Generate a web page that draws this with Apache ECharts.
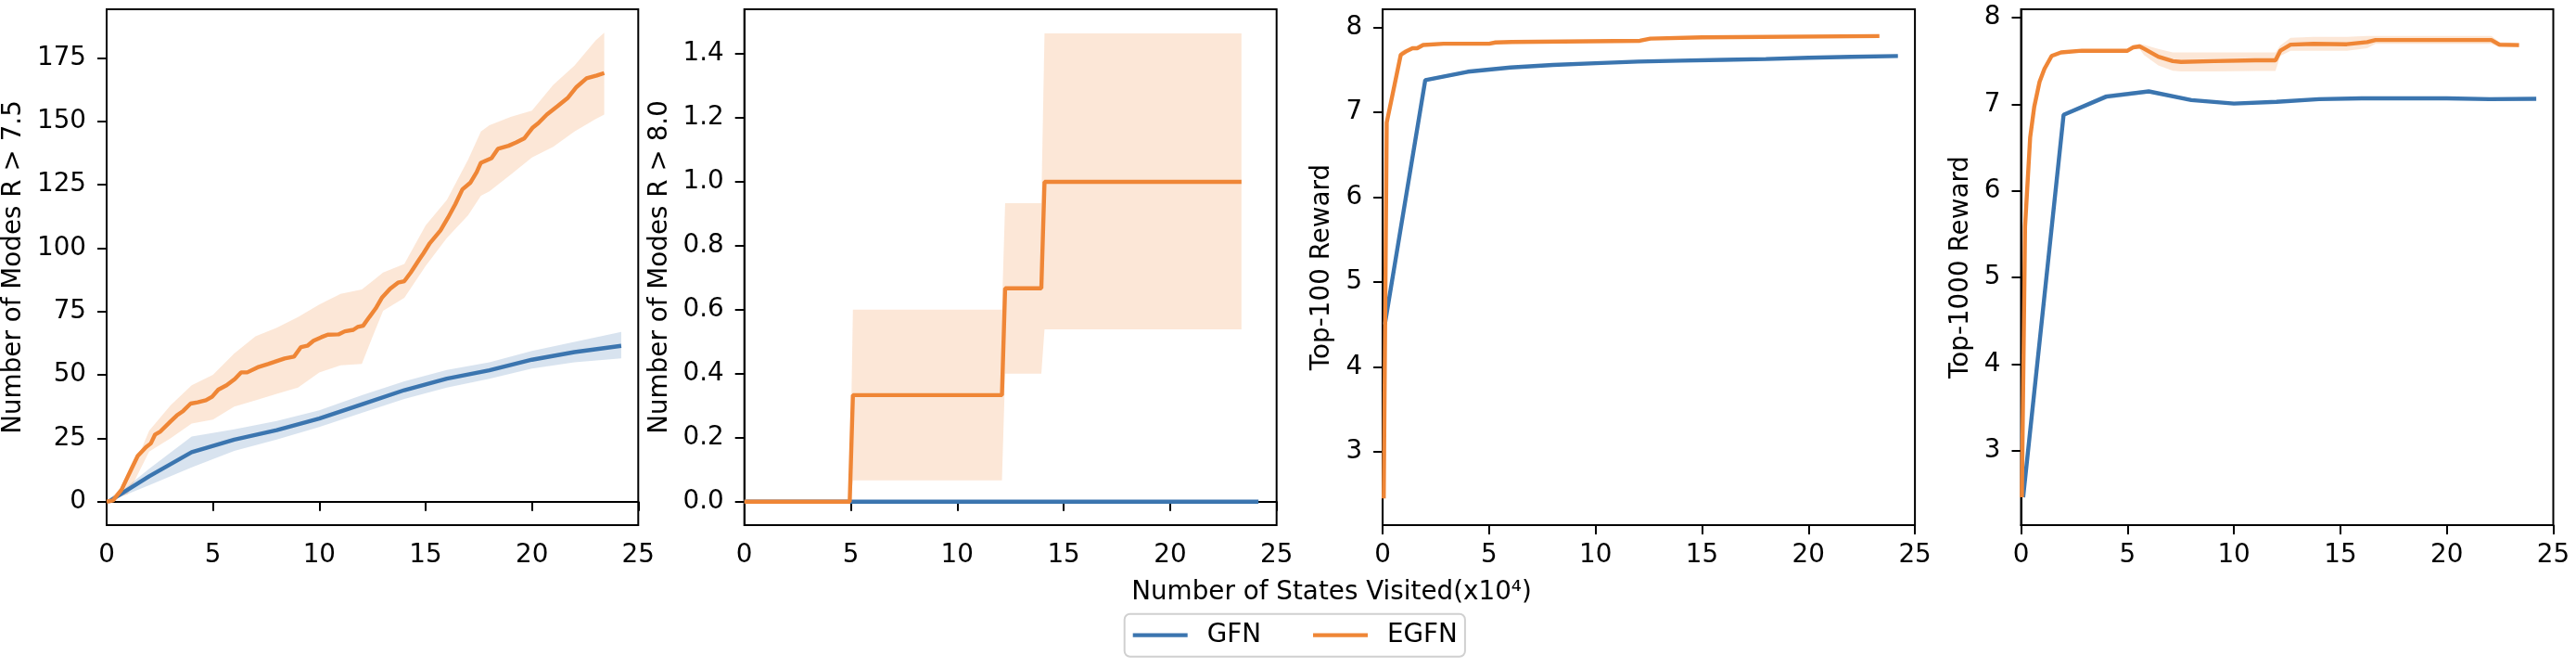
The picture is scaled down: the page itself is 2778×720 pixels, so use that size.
<!DOCTYPE html>
<html lang="en">
<head>
<meta charset="UTF-8">
<title>GFN vs EGFN</title>
<script src="https://cdn.jsdelivr.net/npm/echarts@6/dist/echarts.min.js"></script>
<style>
  html, body { margin: 0; padding: 0; background: #fff; }
  #main { width: 2778px; height: 720px; }
</style>
</head>
<body>
<div id="main"></div>
<script>
// ---- panel 1: Number of Modes R > 7.5 ----
const gfn1X = [0.1, 2, 4, 6, 8, 10, 12, 14, 16, 18, 20, 22, 24.2];
const gfn1Y = [0, 10, 19.5, 24.5, 28.2, 32.8, 38.4, 44, 48.5, 51.8, 56, 59, 61.5];
const gfn1Lo = [0, 6.5, 13.5, 20, 24.5, 29.5, 35, 40.5, 45, 48.5, 52.5, 55, 56.5];
const gfn1Hi = [0, 13, 25.7, 28.5, 31.8, 36, 42, 47.5, 52, 55, 59.5, 63, 67];

const egfn1X = [0, 0.3, 0.7, 1.17, 1.46, 1.85, 2.08, 2.28, 2.53, 3.0, 3.3, 3.6, 3.95, 4.28, 4.67, 4.96,
  5.25, 5.64, 6.03, 6.32, 6.61, 7.1, 7.59, 7.88, 8.37, 8.81, 9.14, 9.44, 9.73, 10.1, 10.4, 10.9, 11.2,
  11.6, 11.8, 12.06, 12.35, 12.65, 12.94, 13.33, 13.7, 14.0, 14.3, 14.7, 14.9, 15.2, 15.7, 16.05, 16.4,
  16.73, 17.1, 17.4, 17.6, 18.1, 18.4, 18.9, 19.26, 19.65, 20.04, 20.3, 20.7, 21.2, 21.7, 22.1, 22.57,
  23.05, 23.4];
const egfn1Y = [0, 0.5, 4.7, 13, 18, 21.5, 23, 26.5, 27.7, 31.6, 34, 35.8, 38.7, 39.2, 40, 41.4,
  44.2, 45.9, 48.4, 51, 51, 53, 54.3, 55.1, 56.5, 57.2, 61, 61.5, 63.5, 64.9, 65.9, 66, 67.2,
  67.8, 68.9, 69.4, 72.8, 76.2, 80.4, 84, 86.4, 87, 90.4, 95.5, 98, 102, 107, 112, 117.4,
  123.2, 125.8, 130, 133.7, 135.5, 139.2, 140.4, 141.7, 143.4, 147.6, 149.3, 152.7, 156, 159.4, 163.6, 167,
  168.1, 169.1];
const egfn1BandX = [0, 1, 2, 3, 4, 5, 6, 7, 8, 9, 10, 11, 12, 12.5, 13, 14, 15, 16, 17, 17.6, 18, 19, 20, 21, 22, 23, 23.4];
const egfn1Lo = [0, 3, 19.8, 25, 30.8, 32.4, 37.5, 40, 42.5, 45, 51, 53.8, 54.3, 65, 75.3, 80.4, 93, 104, 113, 120.7, 122.4, 129, 135.8, 140, 146, 151, 152.7];
const egfn1Hi = [0, 8, 28, 38, 45.9, 50, 58.5, 65.2, 68.6, 72.8, 77.8, 82, 83.7, 87, 90.4, 93.8, 109, 119, 135, 146, 148.5, 151.8, 154.3, 164.4, 172, 182, 185];

// ---- panel 2: Number of Modes R > 8.0 ----
const gfn2X = [0, 24.15];
const gfn2Y = [0, 0];
const egfn2X = [0, 4.95, 5.1, 12.1, 12.25, 13.95, 14.1, 23.35];
const egfn2Y = [0, 0, 0.333, 0.333, 0.667, 0.667, 1, 1];
const egfn2Lo = [0, 0, 0.067, 0.067, 0.4, 0.4, 0.539, 0.539];
const egfn2Hi = [0, 0, 0.6, 0.6, 0.933, 0.933, 1.464, 1.464];

// ---- panel 3: Top-100 Reward ----
const gfn3X = [0.1, 2, 4, 6, 8, 10, 12, 14, 16, 18, 20, 22, 24.2];
const gfn3Y = [4.5, 7.38, 7.48, 7.53, 7.56, 7.58, 7.6, 7.61, 7.62, 7.63, 7.645, 7.655, 7.665];
const gfn3Lo = [4.5, 7.36, 7.46, 7.515, 7.55, 7.57, 7.59, 7.6, 7.61, 7.62, 7.635, 7.645, 7.655];
const gfn3Hi = [4.5, 7.4, 7.5, 7.545, 7.57, 7.59, 7.61, 7.62, 7.63, 7.64, 7.655, 7.665, 7.675];
const egfn3X = [0.05, 0.19, 0.85, 1.1, 1.4, 1.62, 1.9, 2.86, 5.0, 5.3, 6.07, 12.08, 12.57, 15, 23.33];
const egfn3Y = [2.45, 6.88, 7.68, 7.72, 7.757, 7.757, 7.795, 7.81, 7.81, 7.825, 7.83, 7.845, 7.87, 7.885, 7.9];
const egfn3Lo = [2.45, 6.85, 7.64, 7.69, 7.735, 7.74, 7.78, 7.8, 7.8, 7.815, 7.82, 7.835, 7.86, 7.875, 7.89];
const egfn3Hi = [2.45, 6.91, 7.72, 7.75, 7.775, 7.775, 7.81, 7.82, 7.82, 7.835, 7.84, 7.855, 7.88, 7.895, 7.91];

// ---- panel 4: Top-1000 Reward ----
const gfn4X = [0.1, 2, 4, 6, 8, 10, 12, 14, 16, 18, 20, 22, 24.2];
const gfn4Y = [2.46, 6.88, 7.09, 7.15, 7.05, 7.01, 7.03, 7.06, 7.07, 7.07, 7.07, 7.06, 7.065];
const gfn4Lo = [2.46, 6.86, 7.06, 7.13, 7.04, 7.0, 7.02, 7.05, 7.06, 7.06, 7.06, 7.05, 7.055];
const gfn4Hi = [2.46, 6.9, 7.12, 7.17, 7.06, 7.02, 7.04, 7.07, 7.08, 7.08, 7.08, 7.07, 7.075];
const egfn4X = [0.04, 0.19, 0.43, 0.62, 0.87, 1.1, 1.44, 1.88, 2.86, 5.0, 5.28, 5.57, 5.77, 6.45, 7.13,
  7.52, 9.07, 11.0, 11.95, 12.18, 12.66, 13.73, 15.3, 16.26, 16.65, 18.8, 22.09, 22.47, 23.39];
const egfn4Y = [2.46, 5.59, 6.62, 6.97, 7.26, 7.41, 7.56, 7.6, 7.62, 7.62, 7.66, 7.67, 7.645, 7.55, 7.5,
  7.49, 7.5, 7.51, 7.51, 7.62, 7.69, 7.7, 7.695, 7.72, 7.744, 7.744, 7.744, 7.69, 7.685];
const egfn4Lo = [2.46, 5.5, 6.57, 6.94, 7.24, 7.39, 7.55, 7.59, 7.61, 7.61, 7.64, 7.64, 7.57, 7.45, 7.39,
  7.38, 7.38, 7.385, 7.385, 7.56, 7.62, 7.62, 7.62, 7.65, 7.7, 7.7, 7.7, 7.66, 7.66];
const egfn4Hi = [2.46, 5.7, 6.67, 7.0, 7.28, 7.43, 7.57, 7.61, 7.63, 7.63, 7.68, 7.7, 7.69, 7.64, 7.6,
  7.6, 7.6, 7.6, 7.6, 7.68, 7.77, 7.78, 7.78, 7.79, 7.79, 7.79, 7.79, 7.72, 7.71];

// tick labels
const xTicks = [0, 5, 10, 15, 20, 25];
const yTicks1 = [0, 25, 50, 75, 100, 125, 150, 175];
const yTicks2 = [0, 0.2, 0.4, 0.6, 0.8, 1.0, 1.2, 1.4];
const yTicks3 = [3, 4, 5, 6, 7, 8];
const yTicks4 = [3, 4, 5, 6, 7, 8];
const yNames = ['Number of Modes R > 7.5', 'Number of Modes R > 8.0', 'Top-100 Reward', 'Top-1000 Reward'];

const FONT = 'DejaVu Sans';
const FS = 27.8;
const BLUE = '#3b75af', ORANGE = '#ef8636';
const BLUE_FILL = 'rgba(59,117,175,0.2)', ORANGE_FILL = 'rgba(239,134,54,0.2)';

function pairs(xs, ys) { return xs.map((x, i) => [x, ys[i]]); }

function lineSeries(name, i, xs, ys, color) {
  return {
    name: name, type: 'line', xAxisIndex: i, yAxisIndex: i,
    data: pairs(xs, ys), symbol: 'none', showSymbol: false, silent: true,
    lineStyle: { color: color, width: 4.4 }, itemStyle: { color: color }
  };
}

// spread band: one polygon through the upper edge and back along the lower edge
function bandSeries(i, xs, lo, hi, fill) {
  const data = xs.map((x, k) => [x, lo[k], hi[k]]);
  return {
    type: 'custom', xAxisIndex: i, yAxisIndex: i, silent: true,
    encode: { x: 0, y: [1, 2] },
    data: data,
    renderItem: function (params, api) {
      if (params.dataIndex !== 0) return null;
      const upper = data.map(d => api.coord([d[0], d[2]]));
      const lower = data.map(d => api.coord([d[0], d[1]])).reverse();
      return { type: 'polygon', shape: { points: upper.concat(lower) }, style: { fill: fill } };
    }
  };
}

const ranges = [[-9.25, 194.25], [-0.0733, 1.5393], [2.136, 8.216], [2.138, 8.099]];
const yTicks = [yTicks1, yTicks2, yTicks3, yTicks4];
const nameGaps = [86, 77, 51, 51];

const grids = [], xAxes = [], yAxes = [];
for (let i = 0; i < 4; i++) {
  grids.push({ left: 114.3 + 688.4 * i, top: 10, width: 574, height: 556,
    show: true, borderColor: '#000', borderWidth: 2, backgroundColor: 'transparent' });
  xAxes.push({
    type: 'value', gridIndex: i, min: 0, max: 25, interval: 5,
    axisLine: { show: true, lineStyle: { color: '#000', width: 2 } },
    axisTick: { show: true, length: 10, lineStyle: { color: '#000', width: 2 } },
    axisLabel: { margin: 19, fontSize: FS, color: '#000', fontFamily: FONT,
      customValues: xTicks },
    splitLine: { show: false }
  });
  yAxes.push({
    type: 'value', gridIndex: i, min: ranges[i][0], max: ranges[i][1],
    name: yNames[i], nameLocation: 'middle', nameGap: nameGaps[i],
    nameTextStyle: { fontSize: FS, color: '#000', fontFamily: FONT },
    axisLine: { show: true, lineStyle: { color: '#000', width: 2 } },
    axisTick: { show: true, length: 10, customValues: yTicks[i], lineStyle: { color: '#000', width: 2 } },
    axisLabel: { margin: 22, fontSize: FS, color: '#000', fontFamily: FONT,
      customValues: yTicks[i],
      formatter: i === 1 ? (v) => v.toFixed(1) : (v) => String(Math.round(v)) },
    splitLine: { show: false }
  });
}

const series = [
  lineSeries('GFN', 0, gfn1X, gfn1Y, BLUE),
  bandSeries(0, gfn1X, gfn1Lo, gfn1Hi, BLUE_FILL),
  lineSeries('EGFN', 0, egfn1X, egfn1Y, ORANGE),
  bandSeries(0, egfn1BandX, egfn1Lo, egfn1Hi, ORANGE_FILL),

  lineSeries('GFN', 1, gfn2X, gfn2Y, BLUE),
  lineSeries('EGFN', 1, egfn2X, egfn2Y, ORANGE),
  bandSeries(1, egfn2X, egfn2Lo, egfn2Hi, ORANGE_FILL),

  lineSeries('GFN', 2, gfn3X, gfn3Y, BLUE),
  bandSeries(2, gfn3X, gfn3Lo, gfn3Hi, BLUE_FILL),
  lineSeries('EGFN', 2, egfn3X, egfn3Y, ORANGE),
  bandSeries(2, egfn3X, egfn3Lo, egfn3Hi, ORANGE_FILL),

  lineSeries('GFN', 3, gfn4X, gfn4Y, BLUE),
  bandSeries(3, gfn4X, gfn4Lo, gfn4Hi, BLUE_FILL),
  lineSeries('EGFN', 3, egfn4X, egfn4Y, ORANGE),
  bandSeries(3, egfn4X, egfn4Lo, egfn4Hi, ORANGE_FILL)
];

const chart = echarts.init(document.getElementById('main'));
chart.setOption({
  animation: false,
  backgroundColor: '#fff',
  grid: grids,
  xAxis: xAxes,
  yAxis: yAxes,
  legend: {
    data: [{ name: 'GFN', icon: 'rect' }, { name: 'EGFN', icon: 'rect' }],
    left: 1212.7, top: 661.7,
    itemWidth: 59, itemHeight: 4.2, itemGap: 56,
    padding: [9, 8, 9, 9],
    borderColor: '#d0d0d0', borderWidth: 2, borderRadius: 6,
    backgroundColor: '#fff',
    selectedMode: false,
    textStyle: { fontSize: FS, color: '#000', fontFamily: FONT, padding: [0, 0, 0, 16] }
  },
  graphic: [{
    type: 'text', x: 1436, y: 638.4,
    style: { text: 'Number of States Visited(x10⁴)', textAlign: 'center', textVerticalAlign: 'middle',
      font: FS + 'px "' + FONT + '"', fill: '#000' }
  }],
  series: series
});
</script>
</body>
</html>
